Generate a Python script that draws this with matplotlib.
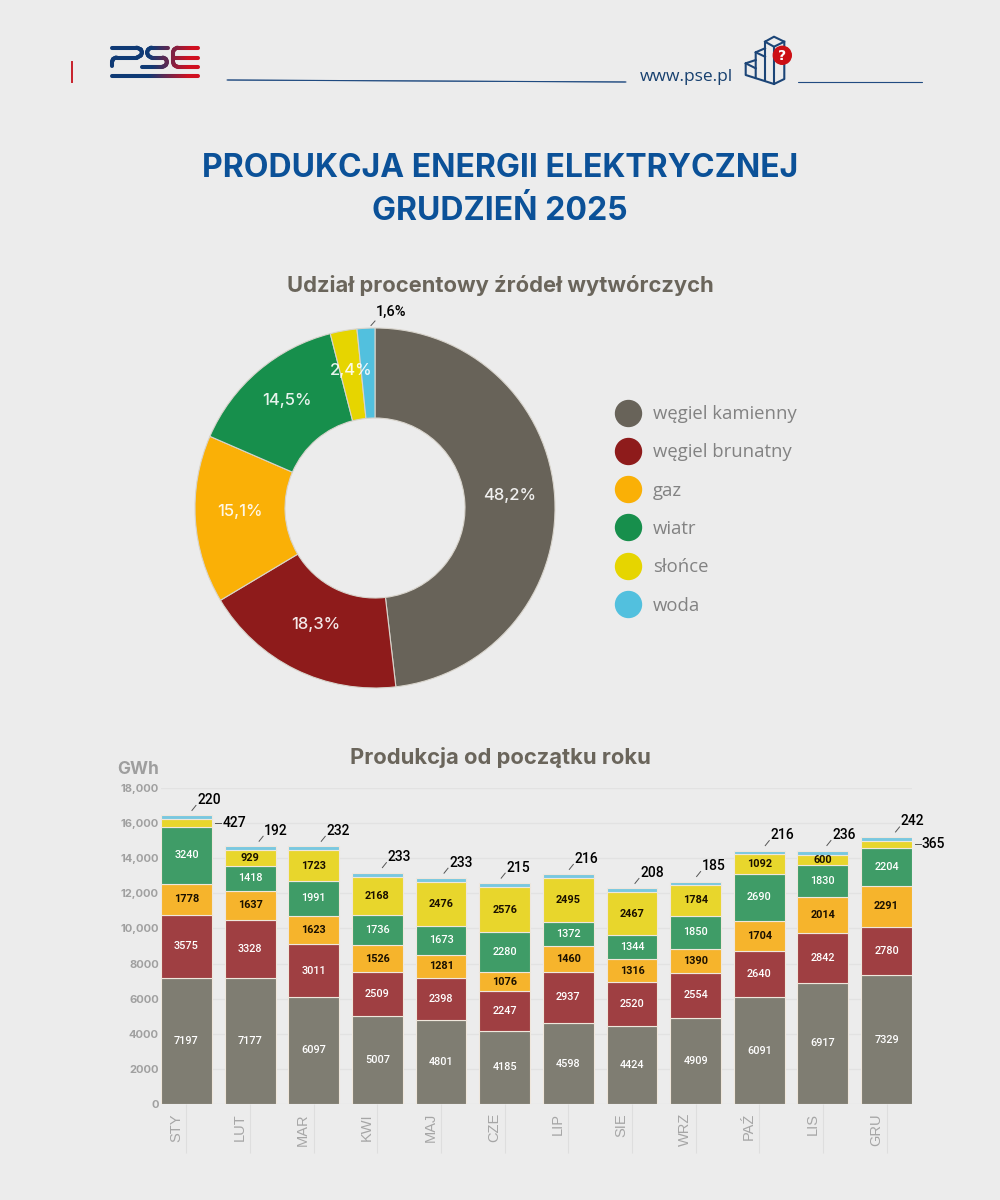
import numpy as np
import matplotlib
matplotlib.use("Agg")
import matplotlib.pyplot as plt
from matplotlib.collections import LineCollection
from matplotlib.colors import to_rgb
from matplotlib.lines import Line2D
from matplotlib.patches import Circle
from matplotlib.transforms import ScaledTranslation

# ---- data ----
sources = ["węgiel kamienny", "węgiel brunatny", "gaz", "wiatr", "słońce", "woda"]
shares = [48.2, 18.3, 15.1, 14.5, 2.4, 1.6]
share_labels = ["48,2%", "18,3%", "15,1%", "14,5%", "2,4%", "1,6%"]
months = ["STY", "LUT", "MAR", "KWI", "MAJ", "CZE", "LIP", "SIE", "WRZ", "PAŹ", "LIS", "GRU"]
kamienny = [7197, 7177, 6097, 5007, 4801, 4185, 4598, 4424, 4909, 6091, 6917, 7329]
brunatny = [3575, 3328, 3011, 2509, 2398, 2247, 2937, 2520, 2554, 2640, 2842, 2780]
gaz = [1778, 1637, 1623, 1526, 1281, 1076, 1460, 1316, 1390, 1704, 2014, 2291]
wiatr = [3240, 1418, 1991, 1736, 1673, 2280, 1372, 1344, 1850, 2690, 1830, 2204]
slonce = [427, 929, 1723, 2168, 2476, 2576, 2495, 2467, 1784, 1092, 600, 365]
woda = [220, 192, 232, 233, 233, 215, 216, 208, 185, 216, 236, 242]
yticks = [0, 2000, 4000, 6000, 8000, 10000, 12000, 14000, 16000, 18000]
ytick_labels = ["0", "2000", "4000", "6000", "8000", "10,000", "12,000", "14,000", "16,000", "18,000"]

# ---- style ----
BG = "#ECECEC"
pie_colors = ["#686359", "#8E1B1B", "#FAB006", "#178F4C", "#E6D500", "#52C0DE"]
bar_colors = ["#7F7D72", "#9F3F42", "#F6B42C", "#3F9C67", "#E8D62C", "#79C8E0"]
label_colors = ["white", "white", "#1A1000", "white", "#1A1000", None]
label_dx = [22.5, 26, 24.5, 22, 20, 13.5, 18, 20, 18, 23, 21, 26]
TITLE_FONT = "Inter"
SMALL_FONT = "Roboto"

fig = plt.figure(figsize=(10, 12), dpi=100, facecolor=BG)


def px_axes(left, top, right, bottom, **kw):
    return fig.add_axes([left / 1000, 1 - bottom / 1200, (right - left) / 1000, (bottom - top) / 1200], **kw)


# ---- overlay for header and titles, in pixel coordinates ----
ov = px_axes(0, 0, 1000, 1200)
ov.set_xlim(0, 1000)
ov.set_ylim(1200, 0)
ov.axis("off")
ov.set_zorder(10)


def grad_line(points, c0, c1, x0, x1, lw):
    pts = np.array(points, float)
    dist = np.r_[0, np.cumsum(np.hypot(*np.diff(pts, axis=0).T))]
    s = np.linspace(0, dist[-1], max(int(dist[-1]), 2) + 1)
    xs, ys = np.interp(s, dist, pts[:, 0]), np.interp(s, dist, pts[:, 1])
    segs = [[(xs[i], ys[i]), (xs[i + 1], ys[i + 1])] for i in range(len(xs) - 1)]
    t = np.clip(((xs[:-1] + xs[1:]) / 2 - x0) / (x1 - x0), 0, 1)[:, None]
    cols = (1 - t) * np.array(to_rgb(c0)) + t * np.array(to_rgb(c1))
    ov.add_collection(LineCollection(segs, colors=cols, linewidths=lw, capstyle="round"))


NAVY, RED = "#0F3A75", "#D01020"
logo = [
    [(112, 47.7), (137, 47.7), (141, 49.5), (142, 52.5), (141, 55.5), (137, 57.5), (116, 57.5), (113, 59), (112, 62), (112, 66)],
    [(168, 47.7), (151, 47.7), (148, 49.5), (147, 52.5), (148, 55.5), (151, 57.5), (163, 57.5), (166, 59), (167, 62), (166, 65), (163, 66.7), (142, 66.7)],
    [(198, 47.7), (177, 47.7), (174, 49.5), (173, 52), (173, 62), (174, 65), (177, 66.7), (198, 66.7)],
    [(173, 57.5), (198, 57.5)],
    [(112, 75.8), (198, 75.8)],
]
for path in logo:
    grad_line(path, NAVY, RED, 150, 190, 2.9)

ov.plot([72, 72], [62, 82], color="#C8202A", lw=1.4)
grad_line([(227, 80), (626, 82)], "#1F4A80", "#1F4A80", 0, 1, 0.8)
grad_line([(798, 82), (922, 82)], "#1F4A80", "#1F4A80", 0, 1, 0.8)
ov.text(686, 77, "www.pse.pl", color="#17406F", fontsize=12.5, ha="center", va="center", family="Open Sans")

icon = [
    [(765, 41.7), (774, 36.7), (784.3, 41.7), (774, 46.7), (765, 41.7), (765, 80)],
    [(774, 46.7), (774, 84)],
    [(784.3, 41.7), (784.3, 79), (774, 84), (745.7, 75), (745.7, 63.3), (755.7, 60)],
    [(755.7, 78), (755.7, 52.3), (765, 48.3)],
    [(755.7, 52.3), (765, 56.7)],
    [(745.7, 63.3), (755.7, 68.3)],
]
for path in icon:
    ov.plot(*zip(*path), color="#1C4577", lw=1.5, solid_joinstyle="round")
ov.add_patch(Circle((782.3, 55.3), 9, color="#CC0F14", zorder=3))
ov.text(782.3, 55.5, "?", color="white", fontsize=10, fontweight="bold", ha="center", va="center", zorder=4, family="DejaVu Sans")

ov.text(500, 168.5, "PRODUKCJA ENERGII ELEKTRYCZNEJ", color="#0B5198", fontsize=23, fontweight="bold",
        ha="center", va="center", family=TITLE_FONT)
ov.text(500, 211.5, "GRUDZIEŃ 2025", color="#0B5198", fontsize=23, fontweight="bold",
        ha="center", va="center", family=TITLE_FONT)
ov.text(500, 285, "Udział procentowy źródeł wytwórczych", color="#6A655B", fontsize=15.8, fontweight="bold",
        ha="center", va="center", family=TITLE_FONT)
ov.text(500, 758, "Produkcja od początku roku", color="#6A655B", fontsize=15.8, fontweight="bold",
        ha="center", va="center", family=TITLE_FONT)
ov.text(117, 770, "GWh", color="#9E9E9E", fontsize=12.5, fontweight="bold", ha="left", va="center", family=TITLE_FONT)

# ---- doughnut ----
ax_pie = px_axes(195, 328, 555, 688)
wedges, _ = ax_pie.pie(shares, colors=pie_colors, startangle=90, counterclock=False, radius=1,
                       wedgeprops=dict(width=0.5, edgecolor="#D8D4CC", linewidth=0.8))
ax_pie.set_xlim(-1, 1)
ax_pie.set_ylim(-1, 1)
for w, lab in list(zip(wedges, share_labels))[:5]:
    a = np.deg2rad((w.theta1 + w.theta2) / 2)
    ax_pie.text(0.75 * np.cos(a), 0.75 * np.sin(a) + 0.028, lab, color="white", fontsize=12, fontweight="medium",
                ha="center", va="center", family=TITLE_FONT, alpha=0.9, zorder=5)
a = np.deg2rad((wedges[5].theta1 + wedges[5].theta2) / 2)
ax_pie.annotate(share_labels[5], xy=(np.cos(a), np.sin(a)), xytext=(10, 16.5), textcoords="offset pixels",
                fontsize=10.5, fontweight="medium", family=SMALL_FONT, ha="left", va="center", color="black",
                annotation_clip=False)
ov.plot([371, 375], [325.5, 321], color="#555555", lw=0.7)

handles = [Line2D([], [], ls="", marker="o", ms=18.7, mfc=c, mec=c, label=s) for c, s in zip(pie_colors, sources)]
leg = fig.legend(handles=handles, loc="upper left", bbox_to_anchor=(0.614, 1 - 405 / 1200), frameon=False,
                 labelspacing=1.1, handletextpad=0.55, borderpad=0, borderaxespad=0, handlelength=1.55,
                 prop=dict(family="Open Sans", size=13.3))
for t in leg.get_texts():
    t.set_color("#828282")

# ---- stacked bars ----
ax = px_axes(161, 788, 912, 1104)
ax.set_facecolor("none")
x = np.arange(len(months))
series = [kamienny, brunatny, gaz, wiatr, slonce, woda]
bottom = np.zeros(len(months))
for vals, col, tcol in zip(series, bar_colors, label_colors):
    vals = np.array(vals, float)
    ax.bar(x, vals, bottom=bottom, width=0.8, color=col, edgecolor="#EFE7DC", linewidth=0.8, zorder=3)
    if tcol:
        for xi, b, v in zip(x, bottom, vals):
            if v < 500:
                continue
            ax.text(xi, b + v / 2, f"{int(v)}", color=tcol, fontsize=7.8, ha="center", va="center", zorder=4,
                    family=SMALL_FONT, fontweight="bold" if tcol != "white" else "medium")
    bottom += vals

ax.set_xlim(-0.4, 11.4)
ax.set_ylim(0, 18000)
ax.set_yticks(yticks, ytick_labels)
ax.set_xticks(x, months)
ax.grid(axis="y", color="#E2E2E2", lw=0.9, zorder=0)
for s in ax.spines.values():
    s.set_visible(False)
ax.tick_params(axis="y", length=0, pad=1.5, labelsize=8, labelcolor="#A0A0A0")
ax.tick_params(axis="x", length=35, width=0.8, color="#DEDEDE", pad=-28.5, labelsize=10.5, labelcolor="#A6A6A6", labelrotation=90)
for t in ax.get_yticklabels():
    t.set_fontweight("bold")
    t.set_family(TITLE_FONT)
shift = ScaledTranslation(-10.5 / 100, 0, fig.dpi_scale_trans)
for t in ax.get_xticklabels():
    t.set_family("Liberation Sans")
    t.set_transform(t.get_transform() + shift)
    t.set_va("top")

tops = np.array(series).sum(axis=0)
for xi, top, v, dx in zip(x, tops, woda, label_dx):
    ax.annotate(f"{v}", xy=(xi, top), xytext=(dx, 15.5), textcoords="offset pixels", ha="center", va="center",
                fontsize=10, fontweight="medium", family=SMALL_FONT, color="black", annotation_clip=False, zorder=5)
    p0 = ax.transData.transform((xi, top))
    ov_pts = ov.transData.inverted().transform([p0 + (dx - 17, 5), p0 + (dx - 13, 10)])
    ov.plot(ov_pts[:, 0], ov_pts[:, 1], color="#555555", lw=0.7)

for i, dash_off in ((0, 29), (11, 28)):
    mid = sum(s[i] for s in series[:4]) + slonce[i] / 2
    ax.annotate(f"{slonce[i]}", xy=(i, mid), xytext=(dash_off + 19, 0), textcoords="offset pixels", ha="center",
                va="center", fontsize=10, fontweight="medium", family=SMALL_FONT, color="black",
                annotation_clip=False, zorder=5)
    p0 = ax.transData.transform((i, mid))
    ov_pts = ov.transData.inverted().transform([p0 + (dash_off, 0), p0 + (dash_off + 6, 0)])
    ov.plot(ov_pts[:, 0], ov_pts[:, 1], color="#555555", lw=0.7)

fig.savefig("out.png", dpi=100, facecolor=BG)
